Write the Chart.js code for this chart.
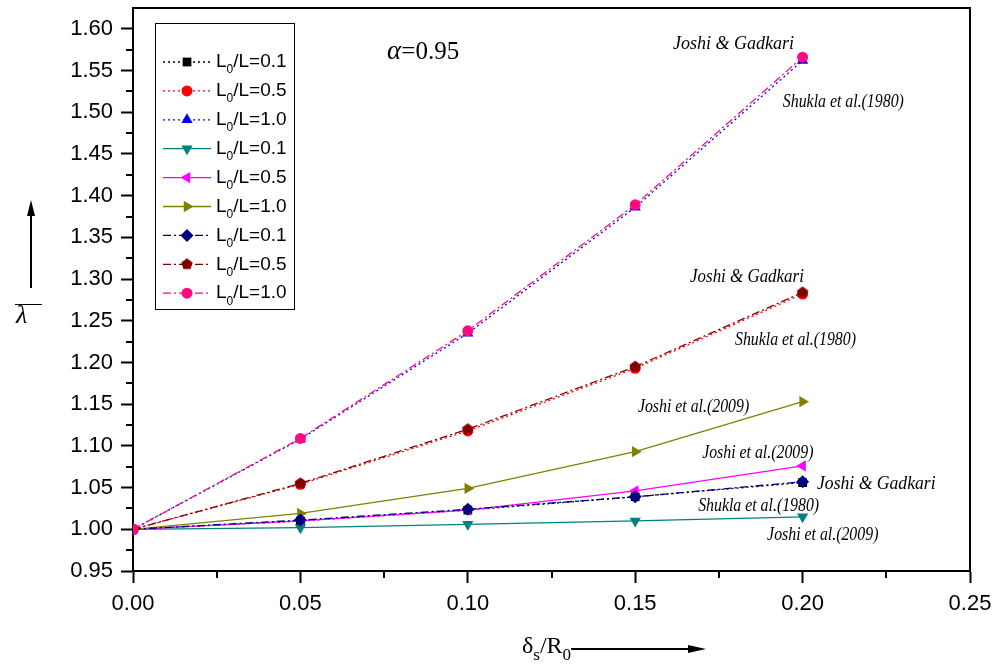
<!DOCTYPE html>
<html>
<head>
<meta charset="utf-8">
<script src="https://cdn.jsdelivr.net/npm/chart.js@4.4.0/dist/chart.umd.min.js"></script>
<style>
  html, body { margin: 0; padding: 0; background: #fff; }
  #wrap { position: relative; width: 997px; height: 666px; }
</style>
</head>
<body>
<div id="wrap"><canvas id="mainChart"></canvas></div>
<script>
// ================= DATA =================
const xValues = [0, 0.05, 0.10, 0.15, 0.20];
const xTicks = [0, 0.05, 0.10, 0.15, 0.20, 0.25];
const yTicks = [0.95, 1.00, 1.05, 1.10, 1.15, 1.20, 1.25, 1.30, 1.35, 1.40, 1.45, 1.50, 1.55, 1.60];

const legendLabels = ['0.1', '0.5', '1.0', '0.1', '0.5', '1.0', '0.1', '0.5', '1.0'];

// Shukla et al. (1980) - dotted
const shukla01 = [1.000, 1.010, 1.023, 1.039, 1.056];
const shukla05 = [1.000, 1.054, 1.118, 1.193, 1.282];
const shukla10 = [1.000, 1.108, 1.235, 1.386, 1.562];
// Joshi et al. (2009) - solid
const joshi01 = [1.000, 1.002, 1.006, 1.010, 1.015];
const joshi05 = [1.000, 1.010, 1.023, 1.046, 1.076];
const joshi10 = [1.000, 1.019, 1.049, 1.093, 1.153];
// Joshi & Gadkari - dash dot
const gadkari01 = [1.000, 1.011, 1.024, 1.039, 1.057];
const gadkari05 = [1.000, 1.055, 1.120, 1.195, 1.284];
const gadkari10 = [1.000, 1.109, 1.238, 1.389, 1.566];

// text labels on the plot (placed in data coords)
const notes = [
  { text: 'Joshi & Gadkari', x: 0.1613, y: 1.581, squeeze: 1.0 },
  { text: 'Shukla et al.(1980)', x: 0.1941, y: 1.512, squeeze: 0.88 },
  { text: 'Joshi & Gadkari', x: 0.1664, y: 1.3025, squeeze: 0.94 },
  { text: 'Shukla et al.(1980)', x: 0.1798, y: 1.227, squeeze: 0.88 },
  { text: 'Joshi et al.(2009)', x: 0.1508, y: 1.1466, squeeze: 0.88 },
  { text: 'Joshi et al.(2009)', x: 0.1700, y: 1.0915, squeeze: 0.88 },
  { text: 'Joshi & Gadkari', x: 0.2043, y: 1.0543, squeeze: 0.98 },
  { text: 'Shukla et al.(1980)', x: 0.1688, y: 1.0279, squeeze: 0.88 },
  { text: 'Joshi et al.(2009)', x: 0.1894, y: 0.9932, squeeze: 0.88 }
];

// --- pentagon marker ---
function makePentagon(color, r) {
  const c = document.createElement('canvas');
  c.width = c.height = r * 2 + 2;
  const g = c.getContext('2d');
  g.beginPath();
  for (let i = 0; i < 5; i++) {
    const a = -Math.PI / 2 + i * 2 * Math.PI / 5;
    const px = r + 1 + r * Math.cos(a), py = r + 1 + r * Math.sin(a);
    i ? g.lineTo(px, py) : g.moveTo(px, py);
  }
  g.closePath();
  g.fillStyle = color;
  g.fill();
  return c;
}

const DOT = [2, 3];
const DASHDOT = [8, 3, 2, 3];

function series(data, color, dash, style, rot, radius) {
  return {
    data: xValues.map((x, i) => ({ x, y: data[i] })),
    borderColor: color,
    backgroundColor: color,
    borderWidth: 1.3,
    borderDash: dash,
    pointStyle: style,
    rotation: rot,
    pointRadius: radius,
    pointBorderWidth: 0,
    pointBackgroundColor: color,
    pointBorderColor: color,
    fill: false,
    tension: 0
  };
}

const datasets = [
  series(shukla01, '#000000', DOT, 'rect', 0, 6.2),
  series(shukla05, '#ff0000', DOT, 'circle', 0, 5.5),
  series(shukla10, '#0000ff', DOT, 'triangle', 0, 6.5),
  series(joshi01, '#008080', [], 'triangle', 180, 6.5),
  series(joshi05, '#ff00ff', [], 'triangle', 270, 6.5),
  series(joshi10, '#808000', [], 'triangle', 90, 6.5),
  series(gadkari01, '#000080', DASHDOT, 'rectRot', 0, 6.5),
  series(gadkari05, '#800000', DASHDOT, makePentagon('#800000', 6), 0, 6),
  series(gadkari10, '#ff0a80', DASHDOT, 'circle', 0, 5.5)
];
// later series on top
datasets.forEach((d, i) => d.order = datasets.length - i);

// ================= PLOT DECORATION =================
const decoPlugin = {
  id: 'deco',
  afterDraw(chart) {
    const ctx = chart.ctx;
    const a = chart.chartArea;
    const xs = chart.scales.x, ys = chart.scales.y;
    ctx.save();

    // frame top/right
    ctx.strokeStyle = '#000';
    ctx.lineWidth = 2;
    ctx.beginPath();
    ctx.moveTo(a.left, a.top); ctx.lineTo(a.right, a.top); ctx.lineTo(a.right, a.bottom);
    ctx.stroke();

    // minor ticks
    ctx.lineWidth = 2;
    ctx.beginPath();
    for (let i = 0; i < xTicks.length - 1; i++) {
      const px = Math.round(xs.getPixelForValue((xTicks[i] + xTicks[i + 1]) / 2));
      ctx.moveTo(px, a.bottom); ctx.lineTo(px, a.bottom + 7);
    }
    for (let i = 0; i < yTicks.length - 1; i++) {
      const py = Math.round(ys.getPixelForValue((yTicks[i] + yTicks[i + 1]) / 2));
      ctx.moveTo(a.left, py); ctx.lineTo(a.left - 7, py);
    }
    ctx.stroke();

    // notes
    ctx.fillStyle = '#000';
    ctx.textBaseline = 'middle';
    ctx.textAlign = 'left';
    ctx.font = 'italic 18px "Liberation Serif", "DejaVu Serif", serif';
    notes.forEach(n => {
      const px = xs.getPixelForValue(n.x), py = ys.getPixelForValue(n.y);
      ctx.save();
      ctx.translate(px, py);
      ctx.scale(n.squeeze, 1);
      ctx.fillText(n.text, 0, 0);
      ctx.restore();
    });

    // alpha
    ctx.font = 'italic 27px "Liberation Serif", serif';
    const ax = xs.getPixelForValue(0.0759), ay = ys.getPixelForValue(1.5723);
    ctx.fillText('\u03b1', ax, ay);
    const aw = ctx.measureText('\u03b1').width;
    ctx.font = '25px "Liberation Serif", serif';
    ctx.fillText('=0.95', ax + aw, ay);

    // legend
    const lx = 155, ly = 23, lw = 139, lh = 286;
    ctx.fillStyle = '#fff';
    ctx.fillRect(lx, ly, lw, lh);
    ctx.strokeStyle = '#000';
    ctx.lineWidth = 1;
    ctx.strokeRect(lx + 0.5, ly + 0.5, lw, lh);
    datasets.forEach((d, i) => {
      const cy = 62 + i * 28.9;
      ctx.save();
      ctx.strokeStyle = d.borderColor;
      ctx.lineWidth = 1.3;
      ctx.setLineDash(d.borderDash);
      ctx.beginPath();
      ctx.moveTo(163, cy); ctx.lineTo(211, cy);
      ctx.stroke();
      ctx.restore();
      ctx.fillStyle = d.pointBackgroundColor;
      Chart.helpers.drawPoint(ctx, {
        pointStyle: d.pointStyle, rotation: d.rotation, radius: d.pointRadius, borderWidth: 0
      }, 187, cy);
      ctx.fillStyle = '#000';
      ctx.textBaseline = 'middle';
      let tx = 216;
      ctx.font = '19px "Liberation Sans", Arial, sans-serif';
      ctx.fillText('L', tx, cy); tx += ctx.measureText('L').width;
      ctx.font = '12px "Liberation Sans", Arial, sans-serif';
      ctx.fillText('0', tx, cy + 8); tx += ctx.measureText('0').width;
      ctx.font = '19px "Liberation Sans", Arial, sans-serif';
      ctx.fillText('/L=' + legendLabels[i], tx, cy);
    });

    // y title: lambda bar with arrow
    ctx.fillStyle = '#000';
    ctx.font = 'italic 26px "Liberation Serif", serif';
    ctx.textAlign = 'left';
    ctx.fillText('\u03bb', 16, 316);
    ctx.lineWidth = 1;
    ctx.beginPath();
    ctx.moveTo(15, 304.5); ctx.lineTo(42, 304.5);
    ctx.stroke();
    ctx.lineWidth = 2;
    ctx.beginPath();
    ctx.moveTo(31, 288); ctx.lineTo(31, 212);
    ctx.stroke();
    ctx.beginPath();
    ctx.moveTo(31, 200); ctx.lineTo(35, 216); ctx.lineTo(27, 216); ctx.closePath();
    ctx.fill();

    // x title: delta_s / R_0 with arrow
    let tx = 522;
    const by = 653;
    ctx.textBaseline = 'alphabetic';
    ctx.font = '24px "Liberation Serif", serif';
    ctx.fillText('\u03b4', tx, by); tx += ctx.measureText('\u03b4').width;
    ctx.font = '17px "Liberation Serif", serif';
    ctx.fillText('s', tx, by + 7); tx += ctx.measureText('s').width;
    ctx.font = '24px "Liberation Serif", serif';
    ctx.fillText('/R', tx, by); tx += ctx.measureText('/R').width;
    ctx.font = '17px "Liberation Serif", serif';
    ctx.fillText('0', tx, by + 7); tx += ctx.measureText('0').width;
    ctx.lineWidth = 2;
    ctx.beginPath();
    ctx.moveTo(tx, 649); ctx.lineTo(690, 649);
    ctx.stroke();
    ctx.beginPath();
    ctx.moveTo(706, 649); ctx.lineTo(688, 645); ctx.lineTo(688, 653); ctx.closePath();
    ctx.fill();

    ctx.restore();
  }
};

// ================= CHART =================
const tickFont = { family: '"Liberation Sans", Arial, sans-serif', size: 22 };

new Chart(document.getElementById('mainChart').getContext('2d'), {
  type: 'line',
  data: { datasets },
  options: {
    responsive: true,
    maintainAspectRatio: false,
    animation: false,
    layout: { padding: { top: 8, right: 27, left: 0, bottom: 0 } },
    plugins: { legend: { display: false }, tooltip: { enabled: false } },
    scales: {
      x: {
        type: 'linear',
        min: 0, max: 0.25,
        afterBuildTicks: s => { s.ticks = xTicks.map(v => ({ value: v })); },
        afterFit: s => { s.height = 95; s.paddingLeft = 0; s.paddingRight = 0; },
        ticks: { color: '#000', font: tickFont, padding: 8, maxRotation: 0, callback: v => Number(v).toFixed(2) },
        grid: { drawOnChartArea: false, drawTicks: true, tickLength: 12, tickWidth: 2, tickColor: '#000' },
        border: { color: '#000', width: 2 }
      },
      y: {
        type: 'linear',
        min: 0.95, max: 1.625,
        afterBuildTicks: s => { s.ticks = yTicks.map(v => ({ value: v })); },
        afterFit: s => { s.width = 133; s.paddingTop = 0; s.paddingBottom = 0; },
        ticks: { color: '#000', font: tickFont, padding: 8, callback: v => Number(v).toFixed(2) },
        grid: { drawOnChartArea: false, drawTicks: true, tickLength: 12, tickWidth: 2, tickColor: '#000' },
        border: { color: '#000', width: 2 }
      }
    }
  },
  plugins: [decoPlugin]
});
</script>
</body>
</html>
